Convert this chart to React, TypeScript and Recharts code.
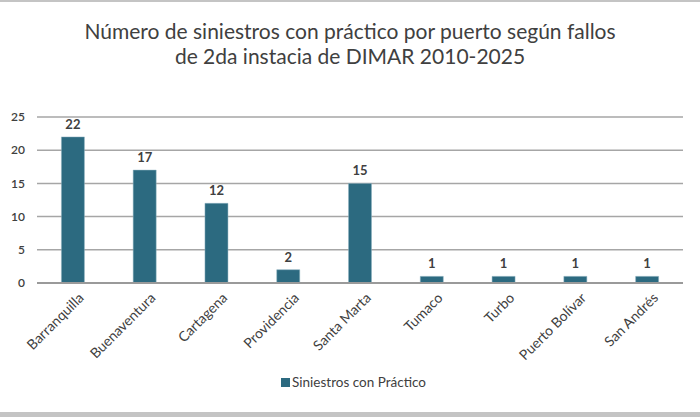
import React from 'react';
import {Bar, BarChart, CartesianGrid, LabelList, Legend, XAxis, YAxis} from 'recharts';

const ports = ['Barranquilla', 'Buenaventura', 'Cartagena', 'Providencia', 'Santa Marta', 'Tumaco', 'Turbo', 'Puerto Bolívar', 'San Andrés'];
const accidents = [22, 17, 12, 2, 15, 1, 1, 1, 1];
const yTicks = [0, 5, 10, 15, 20, 25];

const data = ports.map((port, i) => ({port, value: accidents[i]}));

const FONT = 'Lato, "Open Sans", sans-serif';
const TEXT = '#404040';

const RotatedTick = (props: any) => {
    const {x, y, payload} = props;
    return (
        <g transform={`translate(${x + 9},${y + 5})`}>
            <text x={0} y={0} dy={4} textAnchor="end" transform="rotate(-45)" fill={TEXT} fontSize={14} fontFamily={FONT}>
                {payload.value}
            </text>
        </g>
    );
};

export default function App() {
    return (
        <div style={{position: 'absolute', left: 0, top: 0, width: 700, height: 417, background: '#fff', fontFamily: FONT}}>
            <div style={{position: 'absolute', left: 0, top: 0, width: 700, height: 2, background: '#c4c4c4'}}/>
            <div style={{position: 'absolute', left: 0, top: 412, width: 700, height: 5, background: '#c4c4c4'}}/>
            <div style={{position: 'absolute', left: 0, top: 18, width: 700, textAlign: 'center', color: TEXT, fontSize: 21, lineHeight: '25px'}}>
                Número de siniestros con práctico por puerto según fallos<br/>de 2da instacia de DIMAR 2010-2025
            </div>
            <BarChart
                width={700}
                height={410}
                data={data}
                margin={{top: 117, right: 17, left: 0, bottom: 20}}
                barCategoryGap="34%"
            >
                <CartesianGrid vertical={false} stroke="#a6a6a6" strokeWidth={1.5}/>
                <XAxis
                    dataKey="port"
                    interval={0}
                    height={88}
                    tickLine={false}
                    axisLine={{stroke: '#9a9a9a', strokeWidth: 2}}
                    tick={<RotatedTick/>}
                />
                <YAxis
                    width={37}
                    domain={[0, 25]}
                    ticks={yTicks}
                    axisLine={false}
                    tickLine={false}
                    tick={{fill: TEXT, fontSize: 12, fontFamily: FONT, fontWeight: 600}}
                    tickMargin={6}
                />
                <Legend
                    verticalAlign="bottom"
                    iconType="square"
                    iconSize={9}
                    wrapperStyle={{paddingLeft: 17}}
                    formatter={(value: string) => <span style={{color: TEXT, fontSize: 13.5, fontFamily: FONT, marginLeft: -2}}>{value}</span>}
                />
                <Bar dataKey="value" name="Siniestros con Práctico" fill="#2c6a80" stroke="#8fb3c0" strokeWidth={0.5} isAnimationActive={false}>
                    <LabelList dataKey="value" position="top" offset={8} fill={TEXT} fontSize={13} fontWeight={700} fontFamily={FONT}/>
                </Bar>
            </BarChart>
        </div>
    );
}
